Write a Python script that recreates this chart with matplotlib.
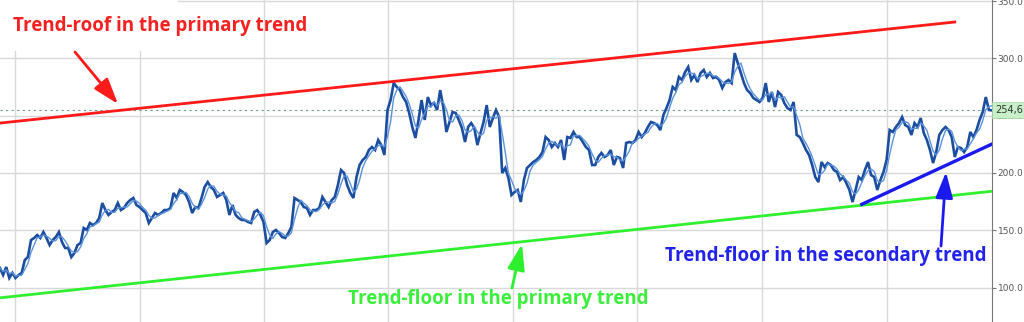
import numpy as np
import pandas as pd
import matplotlib
matplotlib.use("Agg")
import matplotlib.pyplot as plt
from matplotlib.patches import Rectangle
from matplotlib.ticker import FormatStrFormatter

# ---- data (daily closes) ----
close = [
    117.0, 110.9, 117.9, 108.3, 112.7, 108.3, 110.9, 112.7, 124.0, 126.6,
    141.4, 143.2, 145.8, 143.2, 148.4, 143.2, 137.1, 141.4, 144.1, 148.4,
    139.7, 134.5, 134.5, 126.6, 130.1, 137.1, 138.8, 151.9, 150.2, 156.3,
    154.5, 156.3, 160.6, 173.7, 167.6, 163.3, 165.9, 167.6, 173.7, 167.6,
    169.4, 173.7, 176.3, 178.1, 172.0, 170.2, 167.6, 165.0, 156.3, 160.6,
    165.0, 163.3, 165.0,
    167.6, 167.6, 169.4, 182.5, 178.1, 185.1, 183.3, 180.7, 174.6, 165.0,
    170.2, 169.4, 178.1, 187.7, 192.0, 187.7, 185.1, 179.0, 180.7, 182.5,
    176.3, 163.3, 172.0, 163.3, 160.6, 158.9, 158.9, 157.2, 156.3, 165.9,
    167.6, 163.3, 157.2, 138.8, 141.4, 148.4, 150.2, 147.5, 144.1, 143.2,
    147.5, 152.8, 178.1, 176.3, 174.6, 170.2, 169.4, 163.3, 167.6, 167.6,
    169.4, 179.0,
    174.6, 170.2, 176.3, 179.0, 189.4, 202.5, 199.9, 189.4, 182.5, 178.1,
    196.4, 206.9, 211.3, 213.9, 220.0, 222.6, 220.0, 228.7, 224.3, 215.6,
    254.9, 263.6, 278.4, 275.0, 272.3, 266.2, 261.9, 252.3, 240.1, 230.5,
    246.2, 263.6, 246.2, 266.2, 259.2, 261.0, 254.9, 272.3, 257.5, 235.7,
    244.4, 253.1, 252.3, 246.2, 239.2, 227.0, 240.1, 243.5, 239.2, 224.3,
    234.8, 244.4, 259.2, 240.1, 247.9, 254.9,
    248.8, 199.9, 204.3, 195.5, 180.7, 183.3, 185.1, 174.6, 193.8, 204.3,
    206.9, 209.5, 211.3, 213.9, 218.2, 231.3, 228.7, 222.6, 226.1, 222.6,
    228.7, 211.3, 231.3, 230.5, 235.7, 231.3, 231.3, 227.0, 222.6, 220.0,
    206.9, 206.9, 213.9, 217.4, 213.9, 215.6, 220.0, 206.9, 213.9, 213.0,
    204.3, 226.1, 227.0, 226.1, 228.7, 235.7, 231.3, 234.8, 240.1, 244.4,
    243.5,
    241.8, 237.4, 250.5, 256.6, 263.6, 275.0, 272.3, 283.7, 281.1, 288.0,
    292.4, 281.1, 285.4, 279.3, 287.2, 289.8, 283.7, 287.2, 282.8, 283.7,
    281.1, 274.1, 279.3, 281.1, 278.4, 304.6, 295.9, 287.2, 278.4, 272.3,
    269.7, 265.4, 263.6, 261.9, 265.4, 278.4, 261.9, 270.6, 257.5, 270.6,
    268.0, 261.0, 256.6, 254.9, 261.9, 233.1, 231.3, 226.1, 220.0, 215.6,
    206.9, 196.4, 192.0,
    209.5, 205.1, 208.6, 206.9, 202.5, 200.8, 193.8, 196.4, 191.2, 185.1,
    174.6, 185.1, 196.4, 193.8, 202.5, 209.5, 198.1, 196.4, 185.1, 193.8,
    200.8, 211.3, 237.4, 235.7, 240.1, 243.5, 248.8, 241.8, 240.1, 233.1,
    243.5, 240.1, 247.9, 234.8, 228.7, 220.0, 208.6, 218.2, 233.1, 237.4,
    240.1, 237.4, 231.3, 213.9, 222.6, 221.7, 218.2, 222.6, 235.7, 231.3,
    237.4, 246.2, 253.1, 266.2, 254.9, 254.6,
]
last_price = 254.6
last_label = "254,6"

roof_x = [0, 308]
roof_y = [243.5, 331.7]
floor_x = [0, 320]
floor_y = [91.0, 184.0]
sec_x = [278, 320]
sec_y = [172.6, 225.2]

month_starts = [4.8, 45.0, 85.2, 125.2, 165.4, 205.6, 245.8, 286.0]
y_ticks = [100, 150, 200, 250, 300, 350]

roof_text = "Trend-roof in the primary trend"
floor_text = "Trend-floor in the primary trend"
sec_text = "Trend-floor in the secondary trend"

# ---- figure ----
W, H = 1024, 322
fig = plt.figure(figsize=(W / 100, H / 100), dpi=100)
ax = fig.add_axes([0, 0, 992 / W, 1])

sessions = np.arange(len(close))
ma = pd.Series(close).rolling(3, min_periods=1).mean()

ax.set_xlim(0, len(close) - 1)
ax.set_ylim(69.9, 350.9)
ax.set_axisbelow(True)
ax.set_xticks(month_starts)
ax.set_xticklabels([])
ax.tick_params(axis="x", length=0)
ax.set_yticks(y_ticks)
ax.yaxis.tick_right()
ax.yaxis.set_major_formatter(FormatStrFormatter("%.1f"))
ax.tick_params(axis="y", direction="out", length=3, width=0.8, color="#777777",
               labelsize=6.5, labelcolor="#555555", pad=1)
ax.grid(True, color="#d9d9d9", lw=1.0)
for s in ["top", "left", "bottom"]:
    ax.spines[s].set_visible(False)
ax.spines["right"].set_color("#777777")
ax.spines["right"].set_linewidth(0.8)

# white panel behind the top-left label
ax.add_patch(Rectangle((0, 1 - 51 / H), 178 / 992, 51 / H, transform=ax.transAxes,
                       fc="white", ec="none", zorder=1))

# price + smoothing
ax.plot(sessions, close, color="#1c4ea0", lw=1.9, zorder=3, solid_joinstyle="miter")
ax.plot(sessions, ma, color="#5b92dc", lw=1.0, zorder=4)

# current price line + label
ax.axhline(last_price, color="#6f9c8a", lw=0.8, ls=(0, (2, 3)), zorder=2)
ax.text(1.003, last_price, last_label, transform=ax.get_yaxis_transform(),
        ha="left", va="center", fontsize=7, color="#333333", clip_on=False, zorder=10,
        bbox=dict(boxstyle="square,pad=0.3", fc="#c8f0c8", ec="#a0d4a0", lw=0.5))

# trend lines
ax.plot(roof_x, roof_y, color="#ff1a1a", lw=2.0, zorder=5)
ax.plot(floor_x, floor_y, color="#2ef02e", lw=2.0, zorder=5)
ax.plot(sec_x, sec_y, color="#1a1aee", lw=2.4, zorder=5)

font = "Open Sans"
fs = 13.5
ax.text(13 / 992, 1 - 26 / H, roof_text, transform=ax.transAxes, color="#f52020",
        fontsize=fs, fontweight="bold", family=font, va="center", ha="left", zorder=6)
ax.text(348 / 992, 1 - 299 / H, floor_text, transform=ax.transAxes, color="#3cee3c",
        fontsize=fs, fontweight="bold", family=font, va="center", ha="left", zorder=6)
ax.text(665 / 992, 1 - 256 / H, sec_text, transform=ax.transAxes, color="#2222ee",
        fontsize=fs, fontweight="bold", family=font, va="center", ha="left", zorder=6)

def arrow(tail, tip, color):
    ax.annotate("", xy=(tip[0] / 992, 1 - tip[1] / H),
                xytext=(tail[0] / 992, 1 - tail[1] / H),
                xycoords="axes fraction", textcoords="axes fraction",
                arrowprops=dict(arrowstyle="-|>,head_length=1.05,head_width=0.35",
                                color=color, lw=2, mutation_scale=15,
                                shrinkA=0, shrinkB=0), zorder=6)

arrow((75, 52), (118, 104), "#ff1a1a")
arrow((512, 288), (522, 244), "#2ef02e")
arrow((941, 246), (946, 172), "#1a1aee")

fig.savefig("out.png", dpi=100)
